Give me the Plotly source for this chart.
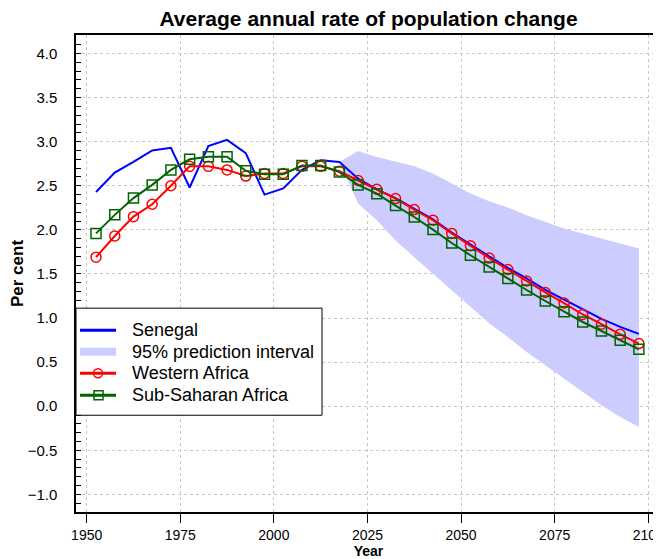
import plotly.graph_objects as go

# Period midpoints (5-year periods 1950-1955 ... 2095-2100)
years = [1952.5, 1957.5, 1962.5, 1967.5, 1972.5, 1977.5, 1982.5, 1987.5, 1992.5, 1997.5,
         2002.5, 2007.5, 2012.5, 2017.5, 2022.5, 2027.5, 2032.5, 2037.5, 2042.5, 2047.5,
         2052.5, 2057.5, 2062.5, 2067.5, 2072.5, 2077.5, 2082.5, 2087.5, 2092.5, 2097.5]

senegal = [2.43, 2.65, 2.77, 2.90, 2.93, 2.48, 2.95, 3.02, 2.87, 2.40,
           2.47, 2.68, 2.79, 2.77, 2.58, 2.46, 2.36, 2.24, 2.12, 1.97,
           1.83, 1.70, 1.57, 1.45, 1.32, 1.21, 1.10, 0.99, 0.90, 0.82]

western_africa = [1.69, 1.93, 2.15, 2.29, 2.50, 2.72, 2.72, 2.68, 2.61, 2.64,
                  2.64, 2.72, 2.72, 2.665, 2.56, 2.46, 2.355, 2.23, 2.11, 1.96,
                  1.82, 1.68, 1.55, 1.42, 1.29, 1.17, 1.04, 0.93, 0.815, 0.71]

sub_saharan = [1.96, 2.17, 2.36, 2.51, 2.68, 2.80, 2.83, 2.83, 2.67, 2.63,
               2.63, 2.73, 2.73, 2.655, 2.51, 2.41, 2.275, 2.146, 2.003, 1.851,
               1.712, 1.579, 1.447, 1.318, 1.193, 1.072, 0.955, 0.853, 0.747, 0.645]

pi_years = [2017.5, 2022.5, 2027.5, 2032.5, 2037.5, 2042.5, 2047.5, 2052.5, 2057.5,
            2062.5, 2067.5, 2072.5, 2077.5, 2082.5, 2087.5, 2092.5, 2097.5]
pi_upper = [2.77, 2.895, 2.827, 2.770, 2.721, 2.638, 2.525, 2.412, 2.324,
            2.253, 2.165, 2.089, 2.014, 1.958, 1.901, 1.844, 1.788]
pi_lower = [2.77, 2.30, 2.11, 1.88, 1.69, 1.50, 1.31, 1.125, 0.94,
            0.785, 0.614, 0.464, 0.313, 0.161, 0.010, -0.123, -0.236]

x_ticks = [1950, 1975, 2000, 2025, 2050, 2075, 2100]

legend_labels = ["Senegal", "95% prediction interval", "Western Africa", "Sub-Saharan Africa"]

FONT = "Liberation Sans, Arial, Helvetica, sans-serif"
BAND = "#CCCCFF"
BLUE, RED, GREEN = "#0000FF", "#FF0000", "#006400"

# Page has an 8px body margin: figure is sized to fit the window.
W, H = 653, 551
ML, MT, MB = 68, 27, 47.3
PW, PH = W - ML, H - MT - MB


def px(sx):  # screen x -> paper x
    return (sx - 8 - ML) / PW


def py(sy):  # screen y -> paper y
    return (H - MB - (sy - 8)) / PH


fig = go.Figure()
fig.add_trace(go.Scatter(x=pi_years, y=pi_upper, mode="lines", line=dict(width=0, color=BAND),
                         showlegend=False, hoverinfo="skip"))
fig.add_trace(go.Scatter(x=pi_years, y=pi_lower, mode="lines", line=dict(width=0, color=BAND),
                         fill="tonexty", fillcolor=BAND, name=legend_labels[1], showlegend=False))
fig.add_trace(go.Scatter(x=years, y=senegal, mode="lines", line=dict(color=BLUE, width=2),
                         name=legend_labels[0], showlegend=False))
fig.add_trace(go.Scatter(x=years, y=western_africa, mode="lines+markers",
                         line=dict(color=RED, width=2),
                         marker=dict(symbol="circle-open", size=10, color=RED, line=dict(width=1.5)),
                         name=legend_labels[2], showlegend=False))
fig.add_trace(go.Scatter(x=years, y=sub_saharan, mode="lines+markers",
                         line=dict(color=GREEN, width=2),
                         marker=dict(symbol="square-open", size=10, color=GREEN, line=dict(width=1.5)),
                         name=legend_labels[3], showlegend=False))

# ---- legend box (drawn as shapes + text annotations) ----
shapes = [dict(type="rect", xref="paper", yref="paper", x0=px(76), x1=px(322), y0=py(415), y1=py(308),
               fillcolor="white", line=dict(color="black", width=1), layer="above")]
rows = [330, 351.5, 373, 395]
shapes.append(dict(type="line", xref="paper", yref="paper", x0=px(80), x1=px(116), y0=py(rows[0]), y1=py(rows[0]),
                   line=dict(color=BLUE, width=3)))
shapes.append(dict(type="line", xref="paper", yref="paper", x0=px(80), x1=px(116), y0=py(rows[1]), y1=py(rows[1]),
                   line=dict(color=BAND, width=8)))
shapes.append(dict(type="line", xref="paper", yref="paper", x0=px(80), x1=px(116), y0=py(rows[2]), y1=py(rows[2]),
                   line=dict(color=RED, width=3)))
shapes.append(dict(type="circle", xref="paper", yref="paper", x0=px(93.5), x1=px(102.5),
                   y0=py(rows[2] + 4.5), y1=py(rows[2] - 4.5), line=dict(color=RED, width=1.5)))
shapes.append(dict(type="line", xref="paper", yref="paper", x0=px(80), x1=px(116), y0=py(rows[3]), y1=py(rows[3]),
                   line=dict(color=GREEN, width=3)))
shapes.append(dict(type="rect", xref="paper", yref="paper", x0=px(94), x1=px(103),
                   y0=py(rows[3] + 4.5), y1=py(rows[3] - 4.5), line=dict(color=GREEN, width=1.5)))
annotations = [dict(text=lab, xref="paper", yref="paper", x=px(130), y=py(r), xanchor="left",
                    yanchor="middle", showarrow=False, font=dict(size=18, family=FONT, color="black"))
               for lab, r in zip(legend_labels, rows)]

fig.update_layout(
    width=W, height=H,
    margin=dict(l=ML, r=0, t=MT, b=MB, autoexpand=False),
    paper_bgcolor="white", plot_bgcolor="white",
    font=dict(family=FONT, color="black", size=14),
    title=dict(text="Average annual rate of population change", x=0.5, xref="paper",
               xanchor="center", y=1 - 11 / H, yref="container", yanchor="middle",
               font=dict(size=21, weight="bold", family=FONT, color="black")),
    xaxis=dict(range=[1947.15, 2103.4], tickvals=x_ticks, ticks="outside", ticklen=9,
               tickcolor="black", tickwidth=1.2, showline=True, linecolor="black", linewidth=1.5,
               mirror=True, showgrid=True, gridcolor="#c8c8c8", griddash="dot", gridwidth=1,
               zeroline=False, tickfont=dict(size=14), automargin=False, ticklabeloverflow="allow",
               title=dict(text="Year", font=dict(size=14, weight="bold"), standoff=4)),
    yaxis=dict(range=[-1.2, 4.21], tick0=0, dtick=0.5, tickformat=".1f", ticks="inside",
               ticklen=5, tickcolor="black", showline=True, linecolor="black", linewidth=1.5,
               mirror=False, showgrid=True, gridcolor="#c8c8c8", griddash="dot", gridwidth=1,
               zeroline=False, tickfont=dict(size=15), ticklabelstandoff=14, automargin=False,
               minor=dict(ticks="inside", dtick=0.1, ticklen=5, tickcolor="black", showgrid=False),
               title=dict(text="Per cent", font=dict(size=17, weight="bold"), standoff=6)),
    shapes=shapes,
    annotations=annotations,
    showlegend=False,
)

fig.write_html("out.html")
